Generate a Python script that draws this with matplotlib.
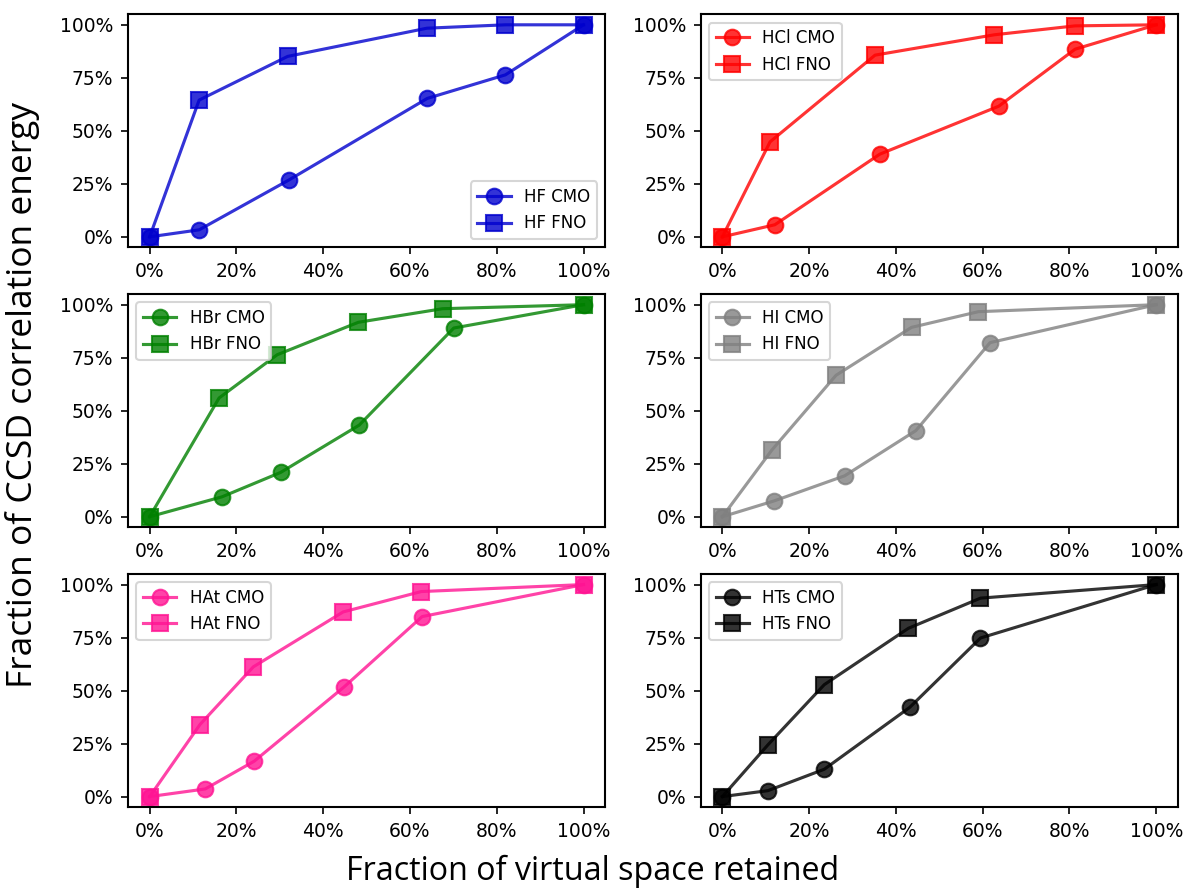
import matplotlib
matplotlib.use("Agg")
import matplotlib.pyplot as plt
from matplotlib.ticker import PercentFormatter

# fraction of virtual space retained (%) and fraction of CCSD correlation energy (%)
molecules = ["HF", "HCl", "HBr", "HI", "HAt", "HTs"]
colors = ["mediumblue", "red", "green", "grey", "deeppink", "black"]
legend_loc = ["lower right", "upper left", "upper left", "upper left", "upper left", "upper left"]

hf_cmo_x = [0, 11.4, 32.0, 64.0, 82.0, 100]
hf_cmo_y = [0, 3.3, 26.7, 65.3, 76.4, 100]
hf_fno_x = [0, 11.4, 31.8, 63.9, 82.0, 100]
hf_fno_y = [0, 64.5, 85.1, 98.4, 100, 100]

hcl_cmo_x = [0, 12.1, 36.3, 63.7, 81.3, 100]
hcl_cmo_y = [0, 5.7, 39.0, 61.6, 88.5, 100]
hcl_fno_x = [0, 11.0, 35.2, 62.7, 81.3, 100]
hcl_fno_y = [0, 44.8, 85.7, 95.3, 99.5, 100]

hbr_cmo_x = [0, 16.7, 30.2, 48.3, 70.1, 100]
hbr_cmo_y = [0, 9.4, 20.9, 43.2, 89.0, 100]
hbr_fno_x = [0, 16.0, 29.4, 48.1, 67.5, 100]
hbr_fno_y = [0, 56.0, 76.4, 91.7, 98.1, 100]

hi_cmo_x = [0, 12.0, 28.2, 44.6, 61.7, 100]
hi_cmo_y = [0, 7.5, 19.3, 40.6, 82.1, 100]
hi_fno_x = [0, 11.4, 26.2, 43.6, 59.0, 100]
hi_fno_y = [0, 31.4, 66.7, 89.3, 96.7, 100]

hat_cmo_x = [0, 12.8, 24.1, 44.8, 62.8, 100]
hat_cmo_y = [0, 3.6, 16.7, 51.7, 84.9, 100]
hat_fno_x = [0, 11.6, 23.9, 44.6, 62.6, 100]
hat_fno_y = [0, 34.0, 61.2, 87.1, 96.7, 100]

hts_cmo_x = [0, 10.5, 23.5, 43.2, 59.5, 100]
hts_cmo_y = [0, 2.8, 12.9, 42.1, 74.8, 100]
hts_fno_x = [0, 10.5, 23.5, 42.9, 59.5, 100]
hts_fno_y = [0, 24.4, 52.8, 79.4, 93.6, 100]

cmo_data = [(hf_cmo_x, hf_cmo_y), (hcl_cmo_x, hcl_cmo_y), (hbr_cmo_x, hbr_cmo_y),
            (hi_cmo_x, hi_cmo_y), (hat_cmo_x, hat_cmo_y), (hts_cmo_x, hts_cmo_y)]
fno_data = [(hf_fno_x, hf_fno_y), (hcl_fno_x, hcl_fno_y), (hbr_fno_x, hbr_fno_y),
            (hi_fno_x, hi_fno_y), (hat_fno_x, hat_fno_y), (hts_fno_x, hts_fno_y)]

fig, axes = plt.subplots(3, 2, figsize=(7.9, 5.92), dpi=150)
fig.subplots_adjust(left=0.108, right=0.994, top=0.984, bottom=0.091,
                    wspace=0.2, hspace=0.2)

for ax, mol, c, loc, cmo, fno in zip(axes.flat, molecules, colors, legend_loc,
                                     cmo_data, fno_data):
    ax.plot(cmo[0], cmo[1], marker="o", markersize=7.5, color=c, alpha=0.8,
            linewidth=1.5, label=f"{mol} CMO")
    ax.plot(fno[0], fno[1], marker="s", markersize=7.5, color=c, alpha=0.8,
            linewidth=1.5, label=f"{mol} FNO")
    ax.set_xticks([0, 20, 40, 60, 80, 100])
    ax.set_yticks([0, 25, 50, 75, 100])
    ax.set_xlim(-5, 105)
    ax.set_ylim(-5, 105)
    ax.xaxis.set_major_formatter(PercentFormatter(decimals=0))
    ax.yaxis.set_major_formatter(PercentFormatter(decimals=0))
    ax.tick_params(labelsize=9)
    for s in ax.spines.values():
        s.set_linewidth(1.0)
    ax.legend(loc=loc, fontsize=8)

label_font = ["Open Sans", "DejaVu Sans"]
fig.text(0.5, 0.0, "Fraction of virtual space retained", fontsize=15.5,
         family=label_font, ha="center", va="bottom")
fig.text(0.004, 0.555, "Fraction of CCSD correlation energy", fontsize=17,
         family=label_font, ha="left", va="center", rotation=90)

fig.savefig("out.png", dpi=150)
